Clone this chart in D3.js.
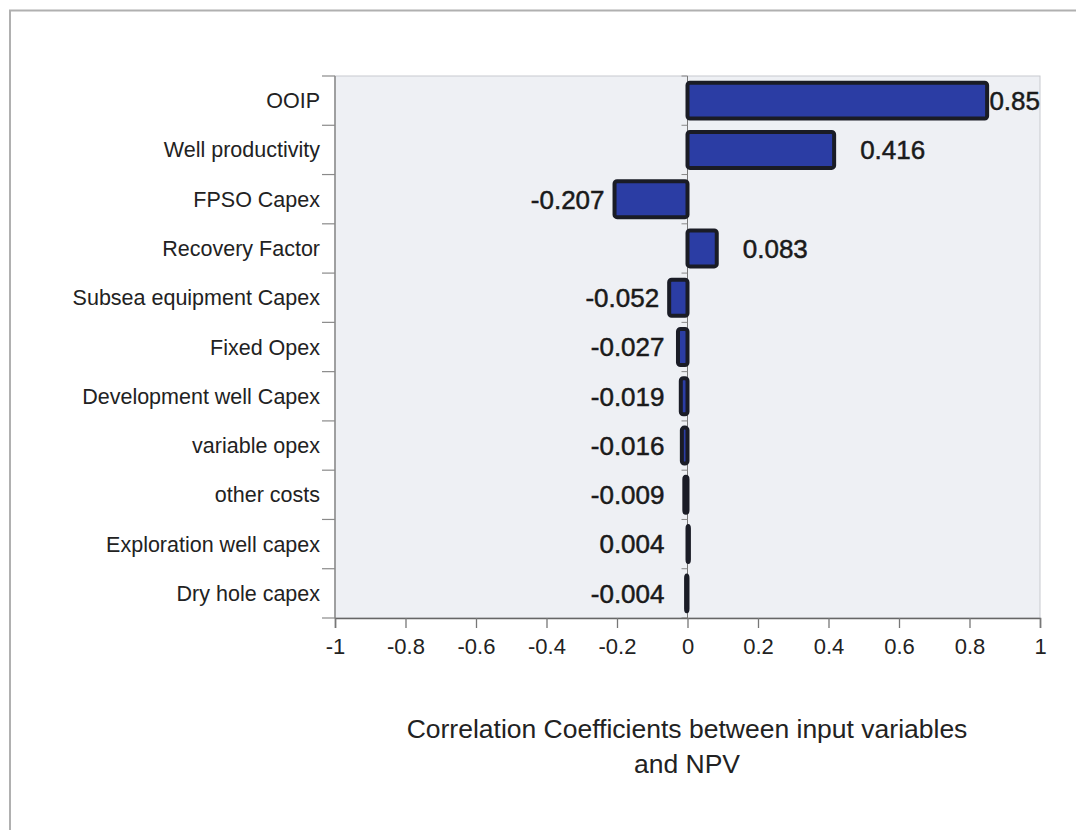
<!DOCTYPE html>
<html>
<head>
<meta charset="utf-8">
<script src="https://cdn.jsdelivr.net/npm/d3@7/dist/d3.min.js"></script>
<style>
  html, body { margin: 0; padding: 0; background: #fff; }
  svg { display: block; font-family: "Liberation Sans", Arial, sans-serif; }
</style>
</head>
<body>
<svg id="chart" width="1076" height="830"></svg>
<script>
const categories = ["OOIP", "Well productivity", "FPSO Capex", "Recovery Factor",
  "Subsea equipment Capex", "Fixed Opex", "Development well Capex", "variable opex",
  "other costs", "Exploration well capex", "Dry hole capex"];
const values = [0.85, 0.416, -0.207, 0.083, -0.052, -0.027, -0.019, -0.016, -0.009, 0.004, -0.004];
const valueLabels = ["0.85", "0.416", "-0.207", "0.083", "-0.052", "-0.027", "-0.019", "-0.016", "-0.009", "0.004", "-0.004"];
const xTicks = [-1, -0.8, -0.6, -0.4, -0.2, 0, 0.2, 0.4, 0.6, 0.8, 1];
const titleLines = ["Correlation Coefficients between input variables", "and NPV"];

(function () {
const svg = d3.select("#chart");
const pL = 335, pR = 1040, pT = 76, pB = 618;

// outer frame (top and left edges)
svg.append("path")
  .attr("d", "M10,1076 L10,10.5 L1076,10.5")
  .attr("fill", "none").attr("stroke", "#b0b0b0").attr("stroke-width", 2);

const x = d3.scaleLinear().domain([-1, 1]).range([pL, pR]);
const y = d3.scaleBand().domain(categories).range([pT, pB])
  .paddingInner(0.27).paddingOuter(0.135);

// plot area
svg.append("rect").attr("x", pL).attr("y", pT)
  .attr("width", pR - pL).attr("height", pB - pT)
  .attr("fill", "#eef0f4").attr("stroke", "#c8cacf").attr("stroke-width", 1);

// left border line
svg.append("line").attr("x1", pL).attr("x2", pL).attr("y1", pT).attr("y2", pB)
  .attr("stroke", "#8a8a8a").attr("stroke-width", 1.5);

// category tick marks on left
const bounds = d3.range(categories.length + 1).map(i => pT + i * (pB - pT) / categories.length);
svg.selectAll(".ltick").data(bounds).enter().append("line")
  .attr("x1", pL - 13).attr("x2", pL)
  .attr("y1", d => d).attr("y2", d => d)
  .attr("stroke", "#8a8a8a").attr("stroke-width", 1.2);

// zero line
svg.append("line").attr("x1", x(0)).attr("x2", x(0)).attr("y1", pT).attr("y2", pB)
  .attr("stroke", "#777").attr("stroke-width", 1);
svg.selectAll(".ztick").data(bounds).enter().append("line")
  .attr("x1", x(0) - 6).attr("x2", x(0))
  .attr("y1", d => d).attr("y2", d => d)
  .attr("stroke", "#888").attr("stroke-width", 1);

// x axis
const xAxis = d3.axisBottom(x).tickValues(xTicks).tickSize(10).tickPadding(10)
  .tickFormat(d => String(+d.toFixed(1)));
const gx = svg.append("g").attr("transform", `translate(0,${pB})`).call(xAxis);
gx.select(".domain").attr("stroke", "#666").attr("stroke-width", 1.5);
gx.selectAll(".tick line").attr("stroke", "#777").attr("stroke-width", 1.3);
gx.selectAll(".tick text").attr("font-size", 22).attr("fill", "#222")
  .attr("font-family", "'Liberation Sans', Arial, sans-serif");

// category labels
svg.selectAll(".clabel").data(categories).enter().append("text")
  .attr("x", pL - 15)
  .attr("y", d => y(d) + y.bandwidth() / 2)
  .attr("dy", "0.35em")
  .attr("text-anchor", "end")
  .attr("font-size", 21.5).attr("fill", "#222")
  .text(d => d);

// bars
const data = categories.map((c, i) => ({ c, v: values[i], label: valueLabels[i] }));
svg.selectAll(".bar").data(data).enter().append("rect")
  .attr("x", d => x(Math.min(0, d.v)))
  .attr("y", d => y(d.c))
  .attr("width", d => Math.abs(x(d.v) - x(0)))
  .attr("height", y.bandwidth())
  .attr("rx", 2.5)
  .attr("fill", "#2b3da4")
  .attr("stroke", "#1a1c26").attr("stroke-width", 4);

// value labels
const lbl = svg.selectAll(".vlabel").data(data).enter().append("text")
  .attr("y", d => y(d.c) + y.bandwidth() / 2)
  .attr("dy", "0.36em")
  .attr("font-size", 26).attr("fill", "#1a1a1a")
  .attr("stroke", "#1a1a1a").attr("stroke-width", 0.5)
  .text(d => d.label);
lbl.each(function (d) {
  const t = d3.select(this);
  const w = this.getComputedTextLength();
  if (d.v >= 0.01) {
    const sx = Math.min(x(d.v) + 26, pR - w);
    t.attr("x", sx).attr("text-anchor", "start");
  } else {
    const ex = Math.min(x(Math.min(0, d.v)) - 10, x(0) - 23);
    t.attr("x", ex).attr("text-anchor", "end");
  }
});

// title
svg.selectAll(".title").data(titleLines).enter().append("text")
  .attr("x", 687).attr("y", (d, i) => 738 + i * 35)
  .attr("text-anchor", "middle")
  .attr("font-size", 26.5).attr("fill", "#222")
  .text(d => d);
})();
</script>
</body>
</html>
